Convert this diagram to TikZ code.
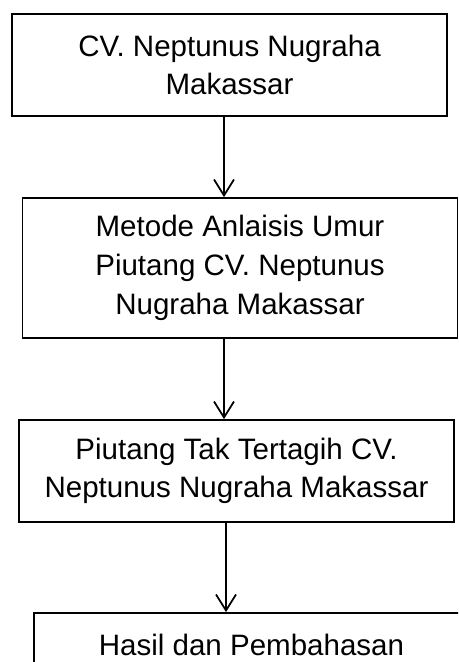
\documentclass[tikz,border=0pt]{standalone}
\usepackage{fontspec}
\setmainfont{Liberation Sans}
\usepackage{tikz}
\usetikzlibrary{arrows.meta}

\begin{document}
\begin{tikzpicture}[x=0.02cm,y=-0.02cm,
  box/.style={draw,line width=1pt,minimum width=8.7cm,align=center,inner sep=0pt,
    font=\fontsize{16.8}{22}\selectfont},
  arr/.style={line width=1pt,-{Straight Barb[length=3.2mm,width=4mm,line width=1pt]}}]
\clip (0,0) rectangle (458,662);

% boxes
\node[box,minimum height=2.04cm] (cv) at (229.5,65) {CV. Neptunus Nugraha\\Makassar};
\node[box,minimum height=2.8cm] (metode) at (240,268) {Metode Anlaisis Umur\\Piutang CV. Neptunus\\Nugraha Makassar};
\node[box,minimum height=2.04cm] (piutang) at (236.5,471) {Piutang Tak Tertagih CV.\\Neptunus Nugraha Makassar};
\node[box,minimum height=1.28cm] (hasil) at (251.5,645) {Hasil dan Pembahasan};

% arrows
\draw[arr] ([xshift=-0.11cm]cv.south) -- ([xshift=-0.32cm]metode.north);
\draw[arr] ([xshift=-0.32cm]metode.south) -- ([xshift=-0.25cm]piutang.north);
\draw[arr] ([xshift=-0.21cm]piutang.south) -- ([xshift=-0.51cm]hasil.north);
\end{tikzpicture}
\end{document}
